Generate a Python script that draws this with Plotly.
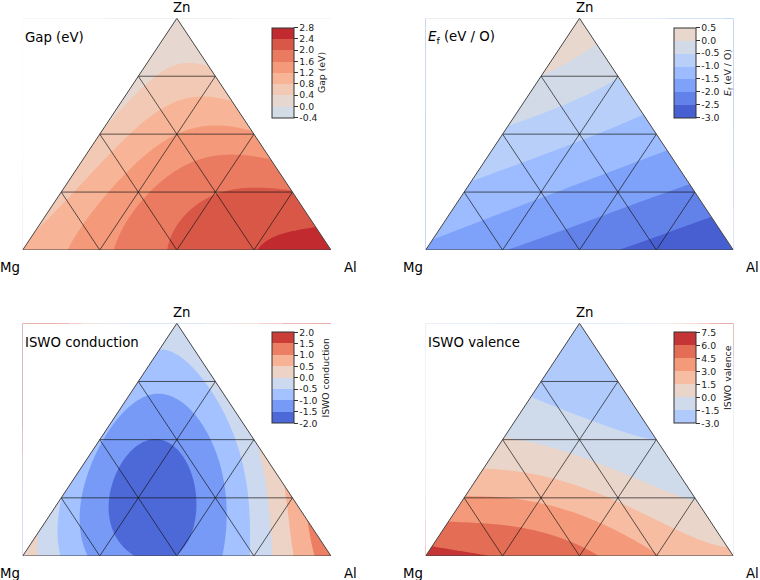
import numpy as np
import plotly.graph_objects as go

W, H = 760, 580

# ---------------- data -------------
# 15 mesh nodes: fractions of Al and Zn (Mg = 1 - Al - Zn)
node_al = [0.0, 0.25, 0.5, 0.75, 1.0, 0.0, 0.25, 0.5, 0.75, 0.0, 0.25, 0.5, 0.0, 0.25, 0.0]
node_zn = [0.0, 0.0, 0.0, 0.0, 0.0, 0.25, 0.25, 0.25, 0.25, 0.5, 0.5, 0.5, 0.75, 0.75, 1.0]

gap_values = [0.85, 1.48, 2.06, 2.39, 2.60,
              0.65, 1.50, 1.98, 2.02,
              0.42, 1.20, 1.25,
              0.25, 0.50,
              0.15]
ef_values = [-1.60, -1.98, -2.33, -2.66, -2.98,
             -1.09, -1.43, -1.78, -2.12,
             -0.58, -0.92, -1.27,
             -0.01, -0.48,
             0.45]
cond_values = [0.30, -1.20, -1.43, -0.49, 1.35,
               -0.50, -1.85, -1.20, 0.65,
               -0.98, -1.36, 0.00,
               -0.76, -0.35,
               -0.25]
val_values = [6.6, 5.9, 4.9, 3.1, 1.8,
              3.1, 2.7, 1.3, -0.1,
              0.1, -0.7, -1.5,
              -1.9, -2.2,
              -2.4]

# extra points read on the contour lines (and the base) of the ISWO conduction panel
cond_extra_al = [0.189, 0.459, 0.186, 0.425, 0.115, 0.358, 0.25, 0.504, 0.134, 0.274,
                 0.186, 0.662, 0.061, 0.542, 0.01, 0.37, 0.085, 0.03, 0.28,
                 0.121, 0.0, 0.748, 0.591, 0.455, 0.2, 0.0,
                 0.065, 0.0, 0.808, 0.672, 0.5,
                 0.862, 0.72, 0.70,
                 0.943, 0.867,
                 0.35, 0.60]
cond_extra_zn = [0.20, 0.20, 0.477, 0.01, 0.38, 0.38, 0.10, 0.10, 0.45, 0.45,
                 0.0, 0.0, 0.25, 0.25, 0.5, 0.5, 0.70, 0.6, 0.6,
                 0.0, 0.26, 0.0, 0.25, 0.5, 0.75, 0.91,
                 0.0, 0.11, 0.0, 0.25, 0.5,
                 0.0, 0.25, 0.3,
                 0.0, 0.133,
                 0.0, 0.0]
cond_extra_values = ([-1.5] * 10 + [-1.0] * 9 + [-0.5] * 7 + [0.0] * 5 + [0.5] * 3 + [1.0] * 2
                     + [-1.43, -1.2])

gap_ticks = [-0.4, 0.0, 0.4, 0.8, 1.2, 1.6, 2.0, 2.4, 2.8]
ef_ticks = [-3.0, -2.5, -2.0, -1.5, -1.0, -0.5, 0.0, 0.5]
cond_ticks = [-2.0, -1.5, -1.0, -0.5, 0.0, 0.5, 1.0, 1.5, 2.0]
val_ticks = [-3.0, -1.5, 0.0, 1.5, 3.0, 4.5, 6.0, 7.5]

panel_titles = ["Gap (eV)", "<i>E</i><sub>f</sub> (eV / O)", "ISWO conduction", "ISWO valence"]
colorbar_titles = ["Gap (eV)", "<i>E</i><sub>f</sub> (eV / O)", "ISWO conduction", "ISWO valence"]
vertex_labels = ["Mg", "Al", "Zn"]
mesh_fractions = [0.25, 0.5, 0.75]

# ---------------- styling -------------
FONT = "DejaVu Sans"
CW = [
    (0.2298057, 0.298717966, 0.753683153), (0.26623388, 0.353094838, 0.801466763),
    (0.30386891, 0.406535296, 0.84495867), (0.342804478, 0.458757618, 0.883725899),
    (0.38301334, 0.50941904, 0.917387822), (0.424369608, 0.558148092, 0.945619588),
    (0.46666708, 0.604562568, 0.968154911), (0.509635204, 0.648280772, 0.98478814),
    (0.552953156, 0.688929332, 0.995375608), (0.596262162, 0.726149107, 0.999836203),
    (0.639176211, 0.759599947, 0.998151185), (0.681291281, 0.788964712, 0.990363227),
    (0.722193294, 0.813952739, 0.976574709), (0.761464949, 0.834302879, 0.956945269),
    (0.798691636, 0.849786142, 0.931688648), (0.833466556, 0.860207984, 0.901068838),
    (0.865395197, 0.86541021, 0.865395561), (0.897787179, 0.848937047, 0.820880546),
    (0.924127593, 0.827384882, 0.774508472), (0.944468518, 0.800927443, 0.726736146),
    (0.958852946, 0.769767752, 0.678007945), (0.96732803, 0.734132809, 0.628751763),
    (0.969954137, 0.694266682, 0.579375448), (0.966811177, 0.650421156, 0.530263762),
    (0.958003065, 0.602842431, 0.481775914), (0.943660866, 0.551750968, 0.434243684),
    (0.923944917, 0.49730856, 0.387970225), (0.89904617, 0.439559467, 0.343229596),
    (0.869186849, 0.378313092, 0.300267182), (0.834620542, 0.312874446, 0.259301199),
    (0.795631745, 0.24128379, 0.220525627), (0.752534934, 0.157246067, 0.184115123),
    (0.705673158, 0.01555616, 0.150232812)]


def coolwarm(p):
    p = min(max(p, 0.0), 1.0)
    f = p * 32
    i = int(np.floor(f))
    if i >= 32:
        c = CW[32]
    else:
        t = f - i
        c = [CW[i][k] * (1 - t) + CW[i + 1][k] * t for k in range(3)]
    return "rgb(%d,%d,%d)" % tuple(int(round(v * 255)) for v in c)


def band_colors(ticks):
    vmax = max(abs(ticks[0]), abs(ticks[-1]))
    mids = [(ticks[k] + ticks[k + 1]) / 2 for k in range(len(ticks) - 1)]
    return [coolwarm(0.5 + m / (2 * vmax)) for m in mids]


def contour_colorscale(cols):
    # plotly samples the band above level k at position (k+1)/nc
    nc = len(cols) + 1
    scale = [[0.0, cols[0]]]
    for k, c in enumerate(cols):
        scale.append([(k + 1) / nc, c])
    scale.append([1.0, cols[-1]])
    return scale


def bar_colorscale(cols):
    n = len(cols)
    scale = []
    for k, c in enumerate(cols):
        scale.append([k / n, c])
        scale.append([(k + 1) / n, c])
    return scale


def fit_surface(al, zn, values, degree=4):
    a = np.array(al, dtype=float)
    z = np.array(zn, dtype=float)
    terms = [(i, j) for i in range(degree + 1) for j in range(degree + 1 - i)]
    A = np.stack([a ** i * z ** j for i, j in terms], axis=1)
    coef, *_ = np.linalg.lstsq(A, np.array(values, dtype=float), rcond=None)
    return terms, coef


# panels: (left px, right px, apex y px, base y px, colorbar x px, colorbar top px, colorbar bottom px)
panels = [
    (22.7, 331.0, 18.3, 250.0, 271.7, 27.3, 117.7),
    (425.7, 733.3, 18.3, 250.0, 674.3, 27.3, 117.7),
    (22.7, 331.0, 323.3, 556.0, 271.7, 332.3, 423.3),
    (425.7, 733.3, 323.3, 556.0, 674.3, 332.3, 423.3),
]
samples = [
    (node_al, node_zn, gap_values),
    (node_al, node_zn, ef_values),
    (node_al + cond_extra_al, node_zn + cond_extra_zn, cond_values + cond_extra_values),
    (node_al, node_zn, val_values),
]
all_ticks = [gap_ticks, ef_ticks, cond_ticks, val_ticks]

fig = go.Figure()
annotations = []
layout_axes = {}

NG = 221
xg = np.linspace(0, 1, NG)
yg = np.linspace(0, 1, NG)
XX, YY = np.meshgrid(xg, yg)
ZN = YY
AL = XX - YY / 2.0


def ann(text, px, py, xanchor="center", size=13.3):
    annotations.append(dict(text=text, x=px / W, y=1 - py / H, xref="paper", yref="paper",
                            xanchor=xanchor, yanchor="middle", showarrow=False,
                            font=dict(size=size, family=FONT, color="black")))


for idx, (pan, smp, ticks) in enumerate(zip(panels, samples, all_ticks)):
    xl, xr, yt, yb, cbx, cbt, cbb = pan
    sfx = "" if idx == 0 else str(idx + 1)
    xa, ya = "x" + sfx, "y" + sfx
    layout_axes["xaxis" + sfx] = dict(domain=[xl / W, xr / W], range=[0, 1], visible=False,
                                      fixedrange=True, anchor=ya)
    layout_axes["yaxis" + sfx] = dict(domain=[1 - yb / H, 1 - yt / H], range=[0, 1], visible=False,
                                      fixedrange=True, anchor=xa)

    terms, coef = fit_surface(*smp)
    Z = np.zeros_like(XX)
    for (i, j), c in zip(terms, coef):
        Z += c * AL ** i * ZN ** j

    step = ticks[1] - ticks[0]
    cols = band_colors(ticks)
    fig.add_trace(go.Contour(
        x=xg, y=yg, z=Z, xaxis=xa, yaxis=ya,
        contours=dict(start=ticks[0], end=ticks[-1], size=step, coloring="fill", showlines=False),
        line=dict(width=0),
        colorscale=contour_colorscale(cols),
        showscale=False,
        hoverinfo="skip",
    ))

    # white masks outside the triangle
    for mx, my in [([0, 0.5, 0, 0], [0, 1, 1, 0]), ([1, 0.5, 1, 1], [0, 1, 1, 0])]:
        fig.add_trace(go.Scatter(x=mx, y=my, xaxis=xa, yaxis=ya, mode="lines", fill="toself",
                                 fillcolor="white", line=dict(width=0, color="white"),
                                 hoverinfo="skip", showlegend=False))

    # mesh lines (constant Zn, constant Al, constant Mg)
    mx, my = [], []
    for f in mesh_fractions:
        mx += [f / 2, 1 - f / 2, None]
        my += [f, f, None]
        mx += [f, f + (1 - f) / 2, None]
        my += [0, 1 - f, None]
        mx += [1 - f, (1 - f) / 2, None]
        my += [0, 1 - f, None]
    fig.add_trace(go.Scatter(x=mx, y=my, xaxis=xa, yaxis=ya, mode="lines",
                             line=dict(width=0.8, color="rgba(20,20,20,0.85)"),
                             hoverinfo="skip", showlegend=False))
    # triangle outline
    fig.add_trace(go.Scatter(x=[0, 1, 0.5, 0], y=[0, 0, 1, 0], xaxis=xa, yaxis=ya, mode="lines",
                             line=dict(width=1, color="#444"),
                             hoverinfo="skip", showlegend=False))

    # colorbar carrier (invisible marker) with discrete bands from start to end
    ticktext = [("%.1f" % t).replace("-0.0", "0.0") for t in ticks]
    fig.add_trace(go.Scatter(
        x=[0.5], y=[0.3], xaxis=xa, yaxis=ya, mode="markers", hoverinfo="skip", showlegend=False,
        marker=dict(size=1, opacity=0, color=[ticks[0]], cmin=ticks[0], cmax=ticks[-1],
                    colorscale=bar_colorscale(cols), showscale=True,
                    colorbar=dict(
                        x=cbx / W, xanchor="left", xpad=0,
                        y=1 - (cbt + cbb) / 2 / H, yanchor="middle", ypad=0,
                        lenmode="pixels", len=cbb - cbt, thicknessmode="pixels", thickness=22,
                        outlinewidth=1, outlinecolor="#333",
                        tickmode="array", tickvals=ticks, ticktext=ticktext,
                        ticks="outside", ticklen=3.5, tickwidth=1, tickcolor="#333",
                        tickfont=dict(size=9.3, family=FONT, color="#222"),
                        title=dict(text=colorbar_titles[idx], side="right",
                                   font=dict(size=9.3, family=FONT, color="#222")),
                    )),
    ))

    ann(vertex_labels[2], (xl + xr) / 2 + 5, yt - 11)
    ann(vertex_labels[0], xl - 13, yb + 17)
    ann(vertex_labels[1], xr + 19, yb + 17)
    ann(panel_titles[idx], xl, yt + 19, xanchor="left")

fig.update_layout(
    width=W, height=H, margin=dict(l=0, r=0, t=0, b=0, autoexpand=False),
    paper_bgcolor="white", plot_bgcolor="white",
    showlegend=False, annotations=annotations,
    **layout_axes,
)

fig.write_html("out.html", config={"displayModeBar": False},
               post_script="document.body.style.margin='0px';")
